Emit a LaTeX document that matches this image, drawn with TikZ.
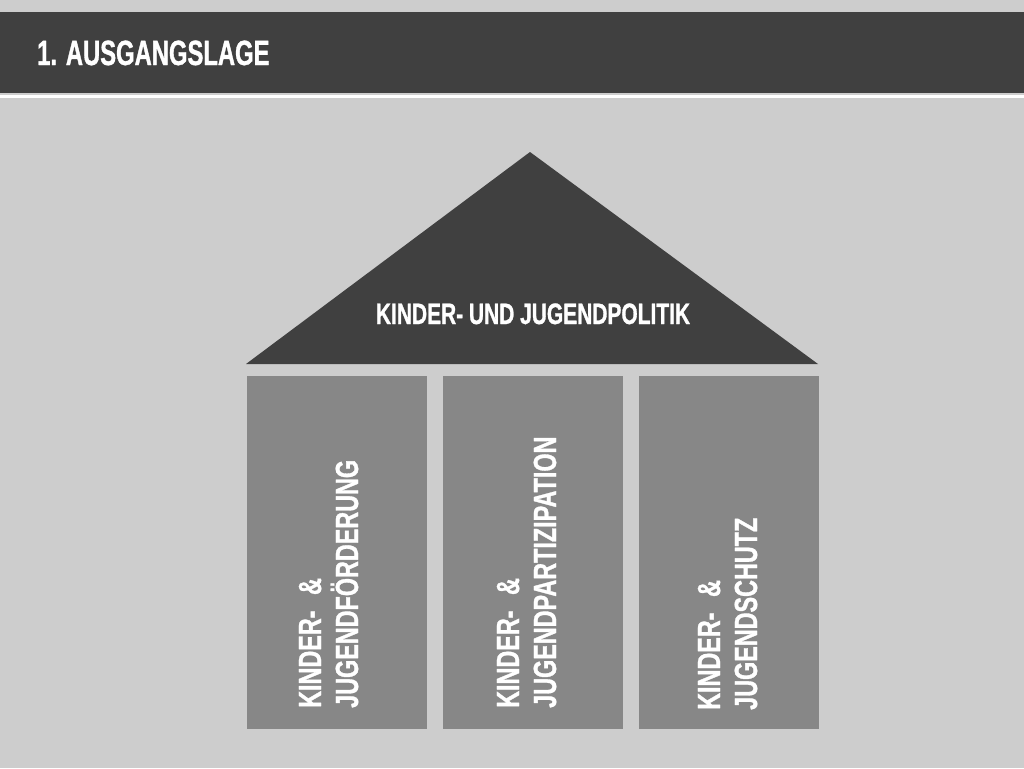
\documentclass[tikz,border=0pt]{standalone}
\usepackage{fontspec}
\setmainfont{Liberation Sans}[FakeStretch=0.68,BoldFeatures={FakeBold=1}]
\newfontfamily\roofont{Liberation Sans}[FakeStretch=0.71,BoldFeatures={FakeBold=1}]
\newfontfamily\pillarfont{Liberation Sans}[FakeStretch=0.73,BoldFeatures={FakeBold=1}]
\usepackage{tikz}
\definecolor{bgray}{HTML}{CDCDCD}
\definecolor{dgray}{HTML}{404040}
\definecolor{mgray}{HTML}{878787}

\begin{document}
\begin{tikzpicture}[x=1pt,y=-1pt,inner sep=0pt]
		\tikzstyle{pillar}=[rectangle,fill=mgray,minimum width=180pt,minimum height=353pt,anchor=north west]
		\tikzstyle{pillar text}=[text=white,font=\pillarfont\bfseries\fontsize{32}{37}\selectfont,align=left,rotate=90,anchor=base west]
		\tikzstyle{roof text}=[text=white,font=\roofont\bfseries\fontsize{29.5}{34}\selectfont,anchor=base]
		\tikzstyle{title}=[text=white,font=\bfseries\fontsize{35}{40}\selectfont,anchor=base west]
		
		% Background and title bar
		\fill[bgray] (0,0) rectangle (1024,768);
		\useasboundingbox (0,0) rectangle (1024,768);
		\fill[dgray] (0,12) rectangle (1024,93);
		\fill[white] (0,95) rectangle (1024,98);
		\node[title] (T) at (37,65) {1. AUSGANGSLAGE};
		
		% Draw the roof
		\coordinate (R-top) at (530,152);
		\coordinate (R-left) at (246,364);
		\coordinate (R-right) at (818,364);
		\fill[dgray] (R-left) -- (R-top) -- (R-right) -- cycle;
		\node[roof text] (R) at (533,324) {KINDER- UND JUGENDPOLITIK};
		
		% Draw the pillars (text anchored on the baseline of the second line)
		\foreach \name / \x / \tx / \ty / \txt in {1/247/358/708/{JUGENDFÖRDERUNG},2/443/556/708/{JUGENDPARTIZIPATION},3/639/757/710/{JUGENDSCHUTZ}}
		{
		\node[pillar] (P-\name) at (\x,376) {};
		\node[pillar text] (L-\name) at (\tx,\ty) {KINDER-\hspace{9pt} \&\\\txt};
		}
	
	\end{tikzpicture}
\end{document}
